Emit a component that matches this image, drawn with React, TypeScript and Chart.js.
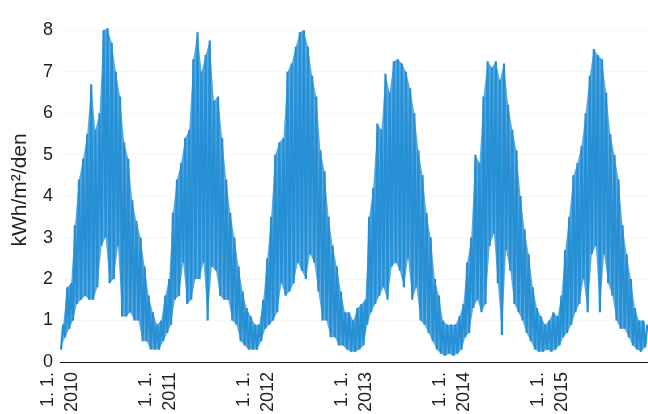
import { useEffect, useRef } from 'react';
import { Chart, registerables } from 'chart.js';

Chart.register(...registerables);

// Daily solar irradiation envelope, 4 readings per month (low, high, low, high)
const years = [2010, 2011, 2012, 2013, 2014, 2015];

const irr2010 = [
  0.3, 0.9, 0.6, 1.8,
  0.8, 1.9, 1.0, 3.3,
  1.4, 4.4, 1.5, 4.9,
  1.6, 5.5, 1.5, 6.7,
  1.5, 5.6, 1.8, 6.0,
  2.8, 8.0, 3.0, 8.05,
  1.9, 7.7, 2.0, 7.0,
  2.8, 6.4, 1.1, 5.3,
  1.1, 4.9, 1.2, 3.9,
  1.0, 3.4, 1.0, 3.0,
  0.5, 2.3, 0.5, 1.6,
  0.3, 1.2, 0.3, 0.9,
];
const irr2011 = [
  0.3, 1.0, 0.5, 1.6,
  0.7, 2.0, 0.9, 3.6,
  1.5, 4.4, 1.6, 4.8,
  2.4, 5.4, 1.4, 5.6,
  1.5, 7.3, 2.0, 7.95,
  2.0, 7.0, 2.4, 7.4,
  1.0, 7.75, 2.3, 6.3,
  2.2, 6.4, 1.6, 5.4,
  1.5, 4.4, 1.5, 3.6,
  1.0, 3.0, 0.9, 2.3,
  0.5, 1.7, 0.4, 1.3,
  0.3, 1.1, 0.3, 0.9,
];
const irr2012 = [
  0.3, 0.9, 0.5, 1.5,
  0.8, 2.5, 0.9, 3.5,
  1.0, 5.0, 1.2, 5.3,
  1.9, 5.4, 1.6, 7.0,
  1.7, 7.2, 1.9, 7.6,
  2.4, 7.95, 2.2, 8.0,
  2.0, 7.6, 2.6, 6.9,
  2.4, 6.4, 1.7, 5.1,
  1.0, 4.6, 1.0, 3.5,
  0.6, 2.8, 0.6, 2.3,
  0.4, 1.7, 0.4, 1.2,
  0.3, 1.2, 0.25, 1.0,
];
const irr2013 = [
  0.25, 1.3, 0.3, 1.4,
  0.4, 1.5, 0.9, 3.5,
  1.2, 4.2, 1.4, 5.75,
  1.6, 5.6, 1.8, 6.95,
  1.5, 6.5, 2.3, 7.25,
  2.4, 7.3, 2.2, 7.2,
  1.8, 7.0, 2.5, 6.6,
  1.5, 6.0, 1.8, 5.1,
  1.0, 4.5, 0.9, 3.6,
  0.7, 3.0, 0.5, 2.0,
  0.3, 1.6, 0.2, 1.0,
  0.15, 0.9, 0.2, 0.9,
];
const irr2014 = [
  0.15, 0.9, 0.2, 1.1,
  0.3, 1.4, 0.6, 2.4,
  0.7, 3.0, 1.3, 5.0,
  1.5, 4.8, 1.2, 6.4,
  1.4, 7.25, 2.8, 7.1,
  3.1, 7.25, 1.9, 6.8,
  0.65, 7.2, 2.7, 6.2,
  2.2, 5.6, 1.4, 5.1,
  1.2, 4.0, 1.0, 3.2,
  0.7, 2.6, 0.5, 1.8,
  0.3, 1.3, 0.25, 1.1,
  0.25, 0.9, 0.3, 1.0,
];
const irr2015 = [
  0.25, 1.2, 0.3, 1.1,
  0.4, 1.6, 0.6, 2.7,
  0.7, 3.5, 0.9, 4.5,
  1.2, 4.8, 1.4, 5.2,
  2.0, 6.0, 1.2, 6.9,
  2.6, 7.55, 2.8, 7.4,
  1.2, 7.3, 2.6, 6.5,
  1.9, 5.5, 1.6, 5.0,
  1.0, 4.4, 0.8, 3.3,
  0.8, 2.6, 0.6, 2.0,
  0.4, 1.3, 0.3, 1.0,
  0.25, 1.0, 0.35, 0.9,
];
const yearSeries = [irr2010, irr2011, irr2012, irr2013, irr2014, irr2015];

const xTickYears = [2010, 2011, 2012, 2013, 2014, 2015];
const xTickLabels = [
  ['1. 1.', '2010'],
  ['1. 1.', '2011'],
  ['1. 1.', '2012'],
  ['1. 1.', '2013'],
  ['1. 1.', '2014'],
  ['1. 1.', '2015'],
];
const yTickValues = [0, 1, 2, 3, 4, 5, 6, 7, 8];
const yTitle = 'kWh/m²/den';

const DAY = 86400000;
const origin = Date.UTC(2010, 0, 1);
const dayIndex = (y: number, m: number) => (Date.UTC(y, m, 1) - origin) / DAY;
const daysIn = (y: number, m: number) => (Date.UTC(y, m + 1, 1) - Date.UTC(y, m, 1)) / DAY;

type P = { x: number; y: number; k: number };
function buildPoints(): P[] {
  const pts: P[] = [];
  years.forEach((yr, yi) => {
    const arr = yearSeries[yi];
    arr.forEach((v, i) => {
      const m = Math.floor(i / 4);
      const k = i % 4;
      const x = dayIndex(yr, m) + ((k + 0.5) * daysIn(yr, m)) / 4;
      pts.push({ x, y: v, k });
    });
  });
  return pts;
}

export default function App() {
  const ref = useRef<HTMLCanvasElement | null>(null);

  useEffect(() => {
    if (!ref.current) return;
    const font = "'Liberation Sans', Arial, Helvetica, sans-serif";
    const xTickVals = xTickYears.map((y) => dayIndex(y, 0));
    const pts = buildPoints();
    const all = pts.map((p) => ({ x: p.x, y: p.y }));
    const lows = pts.filter((p) => p.k % 2 === 0).map((p) => ({ x: p.x, y: p.y }));
    const highs = pts.filter((p) => p.k % 2 === 1).map((p) => ({ x: p.x, y: p.y }));
    const blue = 'rgb(36,140,211)';
    const chart = new Chart(ref.current, {
      type: 'line',
      data: {
        datasets: [
          {
            data: lows,
            borderColor: 'transparent',
            borderWidth: 0,
            pointRadius: 0,
            tension: 0,
            fill: false,
          },
          {
            data: highs,
            borderColor: 'transparent',
            borderWidth: 0,
            backgroundColor: 'rgba(40,145,214,0.78)',
            pointRadius: 0,
            tension: 0,
            fill: '-1',
          },
          {
            data: all,
            borderColor: blue,
            borderWidth: 2.2,
            borderJoinStyle: 'bevel',
            pointRadius: 0,
            tension: 0,
            fill: false,
          },
        ],
      },
      options: {
        animation: false,
        responsive: false,
        events: [],
        layout: { padding: { top: 10, right: 0, bottom: 0, left: 0 } },
        plugins: { legend: { display: false }, tooltip: { enabled: false } },
        scales: {
          x: {
            type: 'linear',
            min: 0,
            max: dayIndex(2016, 0) - 1,
            grid: { display: true, color: 'transparent', drawTicks: false },
            border: { display: true, color: '#111', width: 1 },
            afterBuildTicks: (s: any) => {
              s.ticks = xTickVals.map((v) => ({ value: v }));
            },
            afterFit: (s: any) => {
              s.height = 52;
            },
            ticks: {
              autoSkip: false,
              minRotation: 90,
              maxRotation: 90,
              padding: 10,
              labelOffset: -12,
              color: '#222',
              font: { family: font, size: 18, lineHeight: 1.33 },
              callback: (_v: any, i: number) => xTickLabels[i],
            },
          },
          y: {
            type: 'linear',
            min: 0,
            max: 8.3,
            grid: { color: 'rgba(0,0,0,0.035)', drawTicks: false },
            border: { display: false },
            afterBuildTicks: (s: any) => {
              s.ticks = yTickValues.map((v) => ({ value: v }));
            },
            afterFit: (s: any) => {
              s.width = 60;
            },
            ticks: {
              padding: 7,
              color: '#222',
              font: { family: font, size: 18 },
              callback: (v: any) => String(v),
            },
            title: {
              display: true,
              text: yTitle,
              color: '#222',
              padding: { top: 8, bottom: 0 },
              font: { family: font, size: 21 },
            },
          },
        },
      },
    });
    return () => chart.destroy();
  }, []);

  return (
    <div style={{ position: 'absolute', left: 0, top: 0, width: 648, height: 414, background: '#fff' }}>
      <canvas ref={ref} width={648} height={414} style={{ width: 648, height: 414, display: 'block' }} />
    </div>
  );
}
